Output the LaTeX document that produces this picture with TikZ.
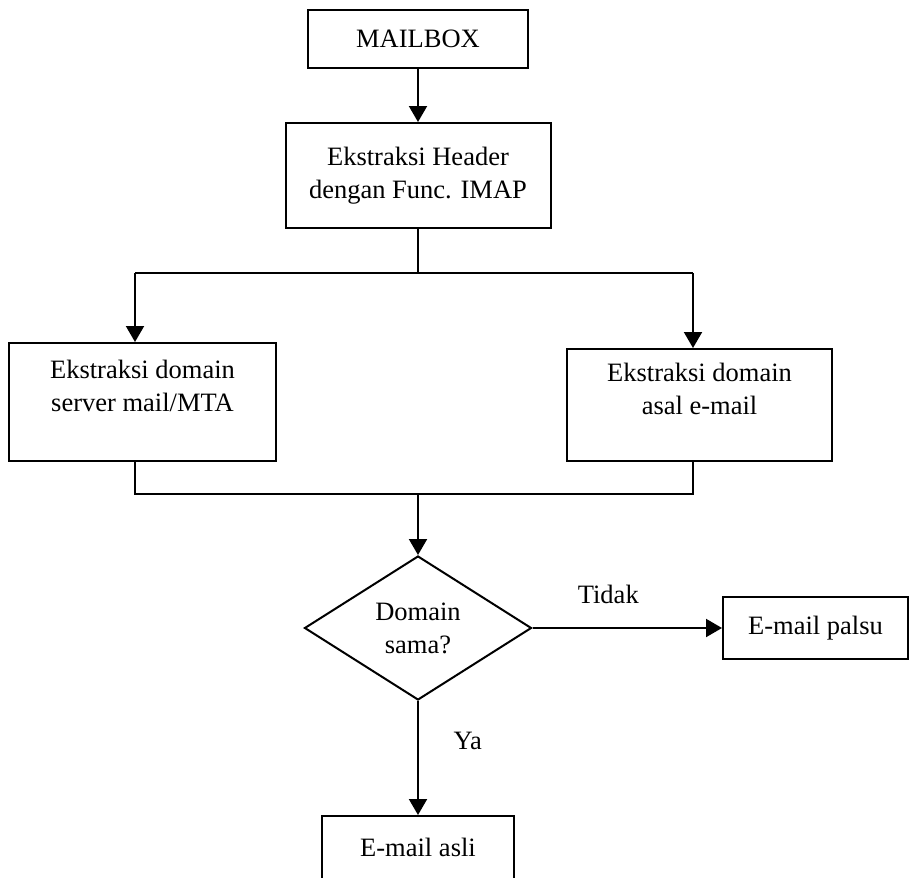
\documentclass[tikz,border=0pt]{standalone}
\usepackage{fontspec}
\setmainfont{Liberation Serif}
\usepackage{tikz}
\usetikzlibrary{shapes.geometric, arrows.meta, calc}

\begin{document}
\begin{tikzpicture}[x=0.5pt, y=-0.5pt, line width=1pt,
  txt/.style={font=\fontsize{13.25}{16.5}\selectfont},
  box/.style={txt, draw, rectangle, inner sep=0pt, align=center},
  decision/.style={txt, draw, diamond, inner sep=0pt, align=center, minimum width=113.5pt, minimum height=72pt},
  flow/.style={-{Triangle[length=8pt,width=9pt]}}]
\useasboundingbox (0,0) rectangle (922,878);
\node[box, minimum width=110pt, minimum height=29pt] (mailbox) at (418,39) {MAILBOX};
\node[box, minimum width=132.5pt, minimum height=52.5pt] (header) at (418,175.5) {Ekstraksi Header\\dengan Func. IMAP};
\node[box, minimum width=133.5pt, minimum height=59pt] (mta) at (142.5,402) {Ekstraksi domain\\server mail/MTA\\\mbox{}};
\node[box, minimum width=132.5pt, minimum height=56pt] (asal) at (699.5,405) {Ekstraksi domain\\asal e-mail\\\mbox{}};
\node[decision] (sama) at (418,628) {Domain\\sama?};
\node[box, minimum width=92.5pt, minimum height=31pt] (palsu) at (815.5,628) {E-mail palsu};
\node[box, minimum width=96pt, minimum height=36pt, text depth=5pt] (asli) at (418,852) {E-mail asli};

\coordinate (splitL) at (135,273);
\coordinate (splitR) at (693,273);
\coordinate (joinL) at (135,494);
\coordinate (joinR) at (693,494);

\draw[flow] (mailbox.south) -- (header.north);
\draw (header.south) -- (header.south |- splitL);
\draw (splitL) -- (splitR);
\draw[flow] (splitL) -- (splitL |- mta.north);
\draw[flow] (splitR) -- (splitR |- asal.north);
\draw (mta.south -| joinL) -- (joinL) -- (joinR) -- (asal.south -| joinR);
\draw[flow] (joinL -| sama) -- (sama.north);
\draw[flow] (sama.east) -- node[txt, pos=0.4, above=8.5pt] (tidak) {Tidak} (palsu.west);
\draw[flow] (sama.south) -- node[txt, pos=0.35, right=14pt] (ya) {Ya} (asli.north);

\end{tikzpicture}
\end{document}
